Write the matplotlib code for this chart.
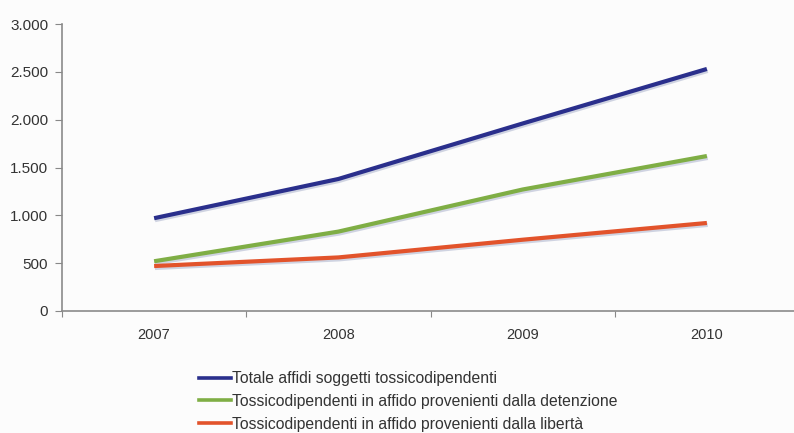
import matplotlib
matplotlib.use("Agg")
import matplotlib.pyplot as plt
import matplotlib.patheffects as pe
from matplotlib.ticker import FuncFormatter, FixedLocator

years = ["2007", "2008", "2009", "2010"]
totale = [970, 1380, 1960, 2530]
detenzione = [520, 830, 1270, 1620]
liberta = [470, 560, 745, 920]

labels = [
    "Totale affidi soggetti tossicodipendenti",
    "Tossicodipendenti in affido provenienti dalla detenzione",
    "Tossicodipendenti in affido provenienti dalla libertà",
]
colors = ["#2a2f8c", "#7fae45", "#e2532b"]

plt.rcParams["font.family"] = ["Liberation Sans", "DejaVu Sans"]

fig = plt.figure(figsize=(7.94, 4.33), dpi=100, facecolor="#fcfcfc")
ax = fig.add_axes([62 / 794, (433 - 311) / 433, (799 - 62) / 794, (311 - 24) / 433])
ax.set_facecolor("#fcfcfc")

x = list(range(len(years)))
shadow = [pe.SimpleLineShadow(offset=(0.6, -1.4), shadow_color="#a3abc8", alpha=0.5),
          pe.Normal()]
for series, c, lab in zip([totale, detenzione, liberta], colors, labels):
    ax.plot(x, series, color=c, lw=3.0, solid_capstyle="butt",
            path_effects=shadow, label=lab)

ax.set_xlim(-0.5, 3.5)
ax.set_ylim(0, 3000)
ax.set_yticks(range(0, 3001, 500))
ax.yaxis.set_major_formatter(FuncFormatter(lambda v, p: f"{int(v):,}".replace(",", ".")))
ax.xaxis.set_major_locator(FixedLocator([-0.5, 0.5, 1.5, 2.5, 3.5]))
ax.xaxis.set_major_formatter(FuncFormatter(lambda v, p: ""))
ax.xaxis.set_minor_locator(FixedLocator(x))
ax.set_xticklabels(years, minor=True)
ax.tick_params(axis="x", which="minor", length=0, pad=12, labelsize=10.5, labelcolor="#333333")
ax.tick_params(axis="x", which="major", length=4, color="#888888", direction="out")
ax.tick_params(axis="y", length=5, color="#888888", direction="out", labelsize=11,
               labelcolor="#333333", pad=5)

for s in ["top", "right"]:
    ax.spines[s].set_visible(False)
for s in ["left", "bottom"]:
    ax.spines[s].set_color("#8a8a8a")
    ax.spines[s].set_linewidth(1.2)

leg_handles = [plt.Line2D([], [], color=c, lw=2.6) for c in colors]
fig.legend(leg_handles, labels, loc="upper left", bbox_to_anchor=(199 / 794, 1 - 371 / 433),
           frameon=False, handlelength=2.05, handletextpad=0.05, labelspacing=0.5,
           fontsize=11.3, labelcolor="#333333", borderaxespad=0, borderpad=0)

fig.savefig("out.png", dpi=100, facecolor=fig.get_facecolor())
